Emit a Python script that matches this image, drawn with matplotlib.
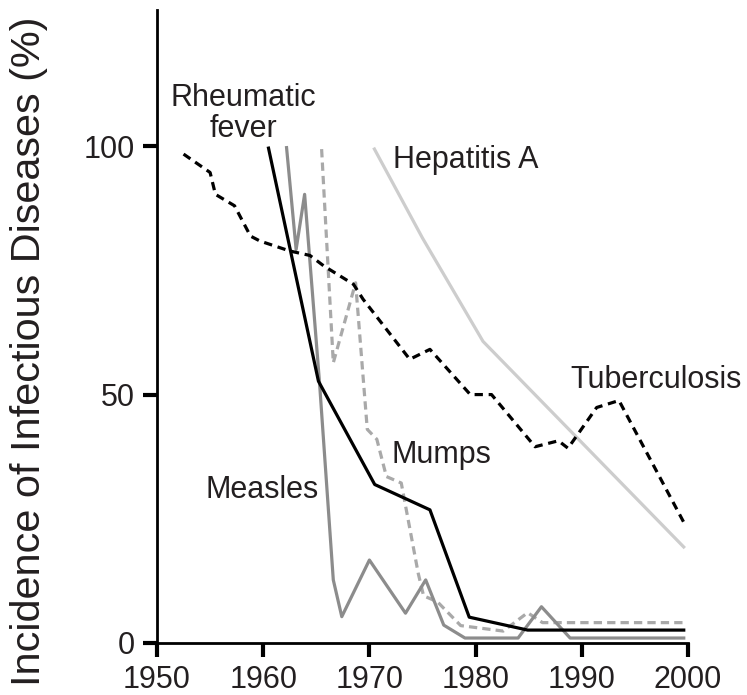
import matplotlib
matplotlib.use("Agg")
import matplotlib.pyplot as plt

plt.rcParams['font.family'] = ['Liberation Sans', 'DejaVu Sans']

# incidence (%)
tb_years = [1952.5, 1955.0, 1955.5, 1957.3, 1958.8, 1959.7, 1962.5, 1964.4, 1965.7,
            1968.5, 1969.4, 1973.8, 1975.7, 1979.5, 1981.5, 1985.6, 1987.8, 1988.7,
            1991.4, 1993.5, 1999.6]
tb_vals = [98.4, 94.7, 90.3, 88.0, 81.9, 80.9, 78.9, 78.0, 75.9,
           72.2, 69.2, 57.1, 59.1, 50.0, 50.0, 39.5, 40.7, 39.2,
           47.4, 48.8, 24.3]

rf_years = [1960.5, 1965.2, 1970.5, 1975.7, 1979.4, 1984.9, 1999.6]
rf_vals = [99.6, 52.7, 31.9, 26.8, 5.2, 2.6, 2.6]

measles_years = [1962.2, 1963.1, 1963.9, 1965.3, 1966.6, 1967.4, 1970.0, 1973.4,
                 1975.3, 1977.0, 1979.0, 1984.0, 1986.2, 1988.9, 1999.6]
measles_vals = [99.7, 79.2, 90.3, 52.5, 12.7, 5.3, 16.7, 6.0,
                12.7, 3.6, 1.0, 1.0, 7.3, 1.0, 1.0]

mumps_years = [1965.5, 1966.6, 1968.7, 1969.8, 1970.7, 1971.6, 1973.0, 1974.6,
               1975.1, 1976.4, 1978.6, 1982.6, 1984.9, 1986.3, 1999.6]
mumps_vals = [99.4, 56.4, 72.5, 43.0, 41.0, 33.5, 32.2, 14.0,
              9.5, 8.3, 3.5, 2.4, 6.1, 4.1, 4.1]

hep_years = [1970.4, 1975.0, 1980.7, 1999.7]
hep_vals = [99.7, 81.5, 60.7, 19.1]

x_ticks = [1950, 1960, 1970, 1980, 1990, 2000]
y_ticks = [0, 50, 100]

text_col = '#231f20'

fig = plt.figure(figsize=(7.47, 6.95), dpi=100)
ax = fig.add_axes([157 / 747, 1 - 643 / 695, 531 / 747, 633 / 695])

ax.plot(hep_years, hep_vals, color='#cdcdcd', lw=2.3, solid_capstyle='butt')
ax.plot(mumps_years, mumps_vals, color='#a9a9a9', lw=2.3, dashes=(2.6, 1.6))
ax.plot(measles_years, measles_vals, color='#8c8c8c', lw=2.3)
ax.plot(rf_years, rf_vals, color='black', lw=2.3)
ax.plot(tb_years, tb_vals, color='black', lw=2.3, dashes=(2.6, 1.8))

fs = 22
ax.text(1958.1, 108.0, 'Rheumatic', ha='center', va='baseline', fontsize=fs, color=text_col)
ax.text(1958.1, 101.8, 'fever', ha='center', va='baseline', fontsize=fs, color=text_col)
ax.text(1972.2, 95.7, 'Hepatitis A', ha='left', va='baseline', fontsize=fs, color=text_col)
ax.text(1988.9, 51.4, 'Tuberculosis', ha='left', va='baseline', fontsize=fs,
        color=text_col, clip_on=False)
ax.text(1972.1, 36.2, 'Mumps', ha='left', va='baseline', fontsize=fs, color=text_col)
ax.text(1954.6, 29.1, 'Measles', ha='left', va='baseline', fontsize=fs, color=text_col)

ax.set_xlim(1950, 2000)
ax.set_ylim(0, 127.4)
ax.set_xticks(x_ticks)
ax.set_yticks(y_ticks)
ax.tick_params(direction='out', length=10, width=3, labelsize=22, pad=6,
               labelcolor=text_col)
for side in ['top', 'right']:
    ax.spines[side].set_visible(False)
for side in ['left', 'bottom']:
    ax.spines[side].set_linewidth(2.0)

fig.text(29 / 747, 1 - 351 / 695, 'Incidence of Infectious Diseases (%)',
         rotation=90, ha='center', va='center', fontsize=29.8, color=text_col)

fig.savefig('out.png', dpi=100)
